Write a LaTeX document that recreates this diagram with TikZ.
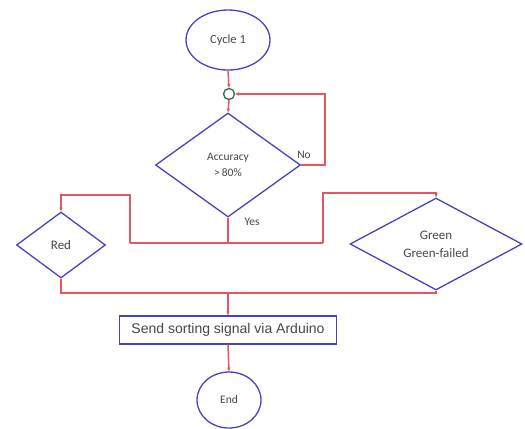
\documentclass[tikz,border=0pt]{standalone}
\usepackage{fontspec}
\setmainfont{Carlito}
\newfontfamily\arialf{Liberation Sans}
\usetikzlibrary{shapes.geometric,arrows.meta}
\definecolor{shapeblue}{RGB}{72,66,190}
\definecolor{linered}{RGB}{228,86,98}
\definecolor{juncgreen}{RGB}{40,110,70}
\definecolor{txtgray}{RGB}{70,70,70}
\tikzset{
  outl/.style={draw=shapeblue, line width=1.3bp, text=txtgray, inner sep=0pt},
  decision/.style={outl, diamond, align=center},
  conn/.style={draw=linered, line width=1.5bp},
  arr/.style={conn, -{Stealth[length=4bp,width=3.5bp]}},
  lbl/.style={text=txtgray, inner sep=0pt, font=\fontsize{11.5bp}{13bp}\selectfont}
}
\begin{document}
\begin{tikzpicture}[x=1bp,y=-1bp]
\useasboundingbox (0,0) rectangle (525,428);
% nodes
\node[outl, ellipse, minimum width=84bp, minimum height=60bp, font=\fontsize{12.5bp}{14bp}\selectfont] (cycle) at (228,40) {Cycle 1};
\node[draw=juncgreen, line width=1.3bp, circle, minimum size=11bp, inner sep=0pt] (junc) at (229,94) {};
\node[decision, minimum width=145bp, minimum height=104bp, font=\fontsize{11.5bp}{16bp}\selectfont] (acc) at (228,165) {Accuracy\\{>}\,80\%};
\node[decision, minimum width=89bp, minimum height=66bp, font=\fontsize{13bp}{14bp}\selectfont] (red) at (61,245) {Red};
\node[decision, minimum width=172bp, minimum height=67bp, font=\fontsize{13bp}{18bp}\selectfont] (green) at (436,244) {Green\\Green-failed};
\node[outl, rectangle, minimum width=217bp, minimum height=28bp, font=\arialf\fontsize{14bp}{15bp}\selectfont] (box) at (228,330) {Send sorting signal via Arduino};
\node[outl, ellipse, minimum width=64bp, minimum height=56bp, font=\fontsize{11.5bp}{12bp}\selectfont] (end) at (229,400) {End};
% helper coordinates
\coordinate (nofar) at (325,165);
\coordinate (notop) at (325,94);
\coordinate (ysplit) at (228,243);
\coordinate (yl) at (130,243);
\coordinate (yr) at (323,243);
\coordinate (yltop) at (130,195);
\coordinate (redtop) at (61,195);
\coordinate (yrtop) at (323,193);
\coordinate (greentop) at (436,193);
\coordinate (redbot) at (61,293);
\coordinate (greenbot) at (436,293);
\coordinate (merge) at (228,293);
% connectors
\draw[arr] (cycle.south) -- (junc.north);
\draw[arr] (junc.south) -- (acc.north);
\draw[arr] (acc.east) -- (nofar) -- (notop) -- (junc.east);
\draw[conn] (acc.south) -- (ysplit);
\draw[conn] (yl) -- (yr);
\draw[arr] (yl) -- (yltop) -- (redtop) -- (red.north);
\draw[arr] (yr) -- (yrtop) -- (greentop) -- (green.north);
\draw[conn] (red.south) -- (redbot) -- (greenbot) -- (green.south);
\draw[arr] (merge) -- (box.north);
\draw[arr] (box.south) -- (end.north);
% labels
\node[lbl] (nolbl) at (304,155) {No};
\node[lbl] (yeslbl) at (252,222) {Yes};
\end{tikzpicture}
\end{document}
